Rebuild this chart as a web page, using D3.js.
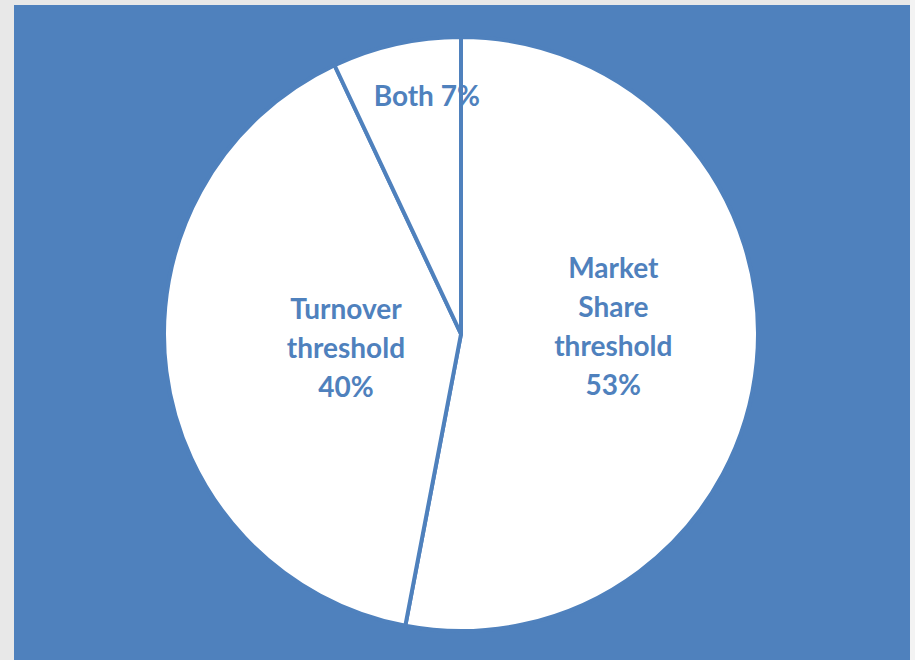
<!DOCTYPE html>
<html>
<head>
<meta charset="utf-8">
<script src="https://cdn.jsdelivr.net/npm/d3@7"></script>
<style>
  body { margin: 0; background: #e9e9e9; }
  svg { display: block; }
</style>
</head>
<body>
<svg id="chart" width="915" height="660"></svg>
<script>
// data
var categories = ["Market Share threshold", "Turnover threshold", "Both"];
var values = [53, 40, 7];
var labelLines = [["Market", "Share", "threshold", "53%"],
                  ["Turnover", "threshold", "40%"],
                  ["Both 7%"]];

var blue = "#4f81bd";
var cx = 461, cy = 334, radius = 297;

var svg = d3.select("#chart");

svg.append("rect")
    .attr("x", 0).attr("y", 0)
    .attr("width", 915).attr("height", 660)
    .attr("fill", "#e8e8e8");

svg.append("rect")
    .attr("x", 910).attr("y", 0)
    .attr("width", 5).attr("height", 660)
    .attr("fill", "#f3f3f3");

svg.append("rect")
    .attr("x", 14).attr("y", 5)
    .attr("width", 896).attr("height", 655)
    .attr("fill", blue);

var pie = d3.pie().sort(null).value(function(d) { return d; });
var arcs = pie(values);

var arc = d3.arc().innerRadius(0).outerRadius(radius);

var g = svg.append("g")
    .attr("transform", "translate(" + cx + "," + cy + ")");

g.selectAll("path.slice")
    .data(arcs)
    .enter().append("path")
    .attr("class", "slice")
    .attr("d", arc)
    .attr("fill", "#ffffff")
    .attr("stroke", blue)
    .attr("stroke-width", 4)
    .attr("stroke-linejoin", "round");

// label placement (radius along slice mid-angle, plus nudge)
var labelRadius = [153, 116, 244];
var labelDx = [0, 0, 19];
var labelDy = [-22, 0, 0];
var lineH = 39;

arcs.forEach(function(a, i) {
    var mid = (a.startAngle + a.endAngle) / 2;
    var x = labelRadius[i] * Math.sin(mid) + labelDx[i];
    var y = -labelRadius[i] * Math.cos(mid) + labelDy[i];
    var lines = labelLines[i];
    var t = g.append("text")
        .attr("text-anchor", "middle")
        .attr("font-family", "Lato, 'Open Sans', sans-serif")
        .attr("font-weight", "bold")
        .attr("font-size", "28px")
        .attr("fill", blue);
    lines.forEach(function(l, j) {
        t.append("tspan")
            .attr("x", x)
            .attr("y", y + (j - (lines.length - 1) / 2) * lineH)
            .attr("dy", "0.35em")
            .text(l);
    });
});
</script>
</body>
</html>
